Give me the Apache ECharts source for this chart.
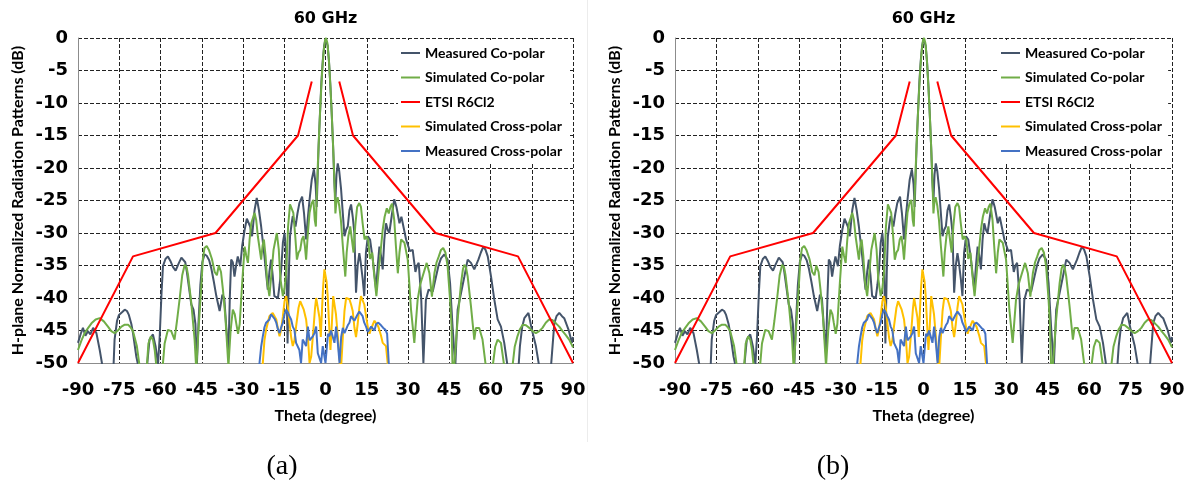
<!DOCTYPE html>
<html><head><meta charset="utf-8">
<script src="https://cdn.jsdelivr.net/npm/echarts@6/dist/echarts.min.js"></script>
<style>html,body{margin:0;padding:0;background:#fff}#c{width:1188px;height:495px}</style>
</head><body><div id="c"></div>
<script>
// ---- tick labels ----
const xTicks = [-90,-75,-60,-45,-30,-15,0,15,30,45,60,75,90];
const yTicks = [-50,-45,-40,-35,-30,-25,-20,-15,-10,-5,0];

// ---- series names ----
const seriesNames = ['Measured Co-polar','Simulated Co-polar','ETSI R6Cl2','Simulated Cross-polar','Measured Cross-polar'];
const seriesColors = ['#44546A','#70AD47','#FF0000','#FFC000','#4472C4'];

// ---- data: [theta (deg), level (dB)] ----
const measCo = [
[-90,-46.9],[-89,-45.5],[-88.2,-44.6],[-87.3,-45.8],[-86.4,-45.1],[-85.5,-45.6],[-84.5,-44.6],[-83.3,-45.4],[-82.1,-48],[-81.1,-50.5],[-79.5,-56],[-77.5,-55],[-76.7,-46.4],[-75.8,-43.5],[-75.1,-42.6],[-74,-42.2],[-73,-41.8],[-72.2,-42],[-71.5,-42.6],[-70.6,-44],[-70,-45.4],[-68.8,-49],[-67.8,-51],[-66,-56],[-64.8,-50],[-64,-46.4],[-62.75,-45.6],[-61.8,-47.4],[-60.9,-50.2],[-60.3,-46],[-59.6,-39],[-59.1,-35.1],[-58.2,-34],[-57.3,-33.6],[-56.4,-34.3],[-55.5,-35.2],[-54.5,-35.8],[-53.5,-34.8],[-52.4,-33.8],[-51.8,-33.7],[-51,-34.5],[-50.4,-36],[-49.6,-38.5],[-48.8,-41],[-48,-41.8],[-47.3,-44],[-46.8,-50.5],[-46.2,-44],[-45.5,-38],[-44.8,-34.5],[-44,-33.3],[-43.2,-33.5],[-42.3,-34.2],[-41.5,-35.5],[-40.6,-37.5],[-39.7,-39.7],[-38.5,-42],[-37.5,-39.5],[-36.8,-40],[-36.1,-44.4],[-35.3,-48.5],[-34.8,-40],[-34.3,-34.1],[-33.7,-34.5],[-33.1,-36.7],[-32.5,-35],[-31.9,-33.6],[-31,-35.1],[-30.3,-32],[-29.4,-29.5],[-28.6,-27.8],[-28.2,-27.7],[-27.4,-29],[-26.7,-30.5],[-25.8,-26.5],[-25,-24.6],[-24.2,-26.5],[-23.4,-29],[-22.2,-33.6],[-21,-38.7],[-20.4,-36],[-19.8,-34.1],[-19.2,-36.5],[-18.6,-39.7],[-17.3,-40],[-16.7,-38],[-16.1,-35.6],[-15.5,-31.5],[-14.9,-30],[-14.3,-33],[-13.8,-47],[-13.3,-36],[-12.9,-30.5],[-12.3,-28.5],[-11.9,-27.4],[-10.9,-29],[-10.2,-27],[-9.5,-25.4],[-8.5,-24.4],[-7.8,-27],[-7.05,-31],[-6.5,-28],[-5.8,-24.9],[-5,-21.8],[-4.2,-20.2],[-3.6,-22.5],[-3.2,-26],[-2.9,-22],[-2.5,-16.5],[-2.0,-11.5],[-1.5,-6.8],[-1.0,-3.5],[-0.5,-1.2],[0,-0.2],[0.3,0],[0.8,-1.2],[1.3,-3.8],[1.8,-7.5],[2.3,-12],[2.8,-17],[3.2,-22],[3.6,-25],[4.0,-21],[4.45,-19.3],[5.0,-20.5],[5.67,-23.3],[6.3,-27],[6.9,-30.5],[7.5,-29.5],[8.1,-29],[8.7,-26.5],[9.3,-25.6],[9.9,-27.5],[10.5,-30],[11.1,-39.2],[11.7,-35],[12.3,-33.1],[12.8,-34.5],[13.5,-37],[14.1,-39.7],[14.7,-33],[15.4,-30.5],[16.2,-31],[17.2,-34.1],[18.4,-38.7],[19.0,-35],[19.6,-32.1],[20.2,-33.5],[20.8,-35.6],[21.4,-31],[22,-28.5],[22.6,-29.5],[23.2,-30],[24.2,-27],[25.0,-24.8],[25.8,-26],[26.9,-28.5],[27.6,-27.5],[28.3,-27.4],[29.3,-31],[30.7,-32.8],[31.7,-32.6],[32.7,-36],[33.3,-35],[33.9,-34.6],[34.8,-40],[35.6,-50],[36.5,-40.3],[37.5,-38.7],[39,-39],[40.2,-36.7],[41.1,-35],[42,-33.9],[43.2,-33.3],[44.4,-34.1],[45.3,-37.7],[46.2,-44.4],[47.2,-50.5],[48.05,-41.8],[49.3,-39.2],[50.5,-36.7],[51.7,-34.1],[52.9,-34.6],[54.1,-35.6],[55.6,-34.1],[56.5,-33],[57.4,-32.1],[58.2,-32.6],[59,-33.6],[60.2,-36.7],[61.4,-40.3],[62.6,-43.3],[63.8,-44.4],[65,-46.9],[66.2,-50.5],[67.5,-56],[69.5,-55],[70.7,-47.4],[71.5,-44.5],[72.3,-43.1],[73.8,-42.3],[75.05,-44.9],[76.5,-47.4],[77.7,-50.5],[79.5,-56],[81,-55],[82,-50.5],[83.2,-43.9],[84,-42.8],[85,-42.3],[86,-42.8],[86.8,-43.1],[88.4,-44.9],[89.6,-46.9],[90,-46]
];
const simCo = [
[-90,-48],[-88.8,-46.6],[-87.6,-45.4],[-86.3,-44.6],[-85.1,-43.9],[-83.6,-43.3],[-82.1,-43.1],[-80.6,-43.6],[-79.1,-44.4],[-77.9,-45.1],[-76.7,-45.4],[-75.5,-45],[-74.2,-44.4],[-73,-44.1],[-71.8,-44.1],[-70.9,-44.5],[-70,-45.1],[-68.6,-47.4],[-67.6,-50.5],[-66.5,-54],[-65.2,-52],[-64.4,-47],[-63.5,-45.9],[-62.7,-46.5],[-62.1,-48],[-61.5,-50.5],[-60.5,-54],[-59.3,-51],[-58.5,-47],[-57.3,-44.9],[-56.1,-45.1],[-54.9,-46.4],[-54,-43.5],[-53,-40],[-52.1,-36.5],[-51.2,-34.9],[-50.5,-35.3],[-50,-36.4],[-48.8,-40.8],[-47.6,-46.4],[-47,-51],[-46.2,-45],[-45.2,-38.5],[-44.6,-34],[-44,-32.3],[-43.2,-32],[-42.4,-32.6],[-41.3,-34],[-40.3,-36],[-39.5,-36.5],[-38.8,-35],[-38,-36],[-37.3,-38.7],[-36.4,-43],[-35.3,-50.5],[-34.5,-45],[-33.7,-41.8],[-33,-42.5],[-32.5,-43.8],[-31.8,-45.5],[-31.2,-44],[-30.3,-37.7],[-29.4,-32.1],[-28.8,-33.5],[-28.2,-34.6],[-27.6,-31],[-27,-28.5],[-25.8,-26.9],[-25.2,-28],[-24.6,-30.5],[-23.4,-34.1],[-22.9,-32],[-22.4,-31],[-21.8,-33.5],[-21.2,-37.5],[-20.4,-39.7],[-19.6,-36],[-18.9,-32.6],[-17.7,-30],[-17,-32.5],[-16.4,-37],[-15.5,-39.7],[-14.9,-38.5],[-14.3,-36.1],[-13.6,-29],[-12.9,-25.6],[-12.3,-25.8],[-11.7,-26.9],[-11,-30.5],[-10.4,-34.1],[-9.8,-33],[-9.2,-32.6],[-8.6,-31],[-8.0,-30.5],[-7.5,-32],[-7.05,-34.1],[-6.4,-30],[-5.8,-26.9],[-5.1,-25.5],[-4.4,-24.9],[-3.9,-28],[-3.5,-29],[-3.1,-23],[-2.7,-18.5],[-2.2,-13.5],[-1.7,-9],[-1.2,-5],[-0.7,-2.2],[-0.2,-0.4],[0.2,0],[0.7,-0.8],[1.2,-3.2],[1.7,-6.8],[2.2,-11],[2.7,-16],[3.2,-21.5],[3.6,-27],[4.0,-25],[4.4,-24.5],[5.0,-25.8],[5.6,-28],[6.3,-32],[7.2,-36.7],[7.7,-33],[8.3,-30.5],[9.0,-29],[9.6,-31],[10.2,-33],[10.8,-29],[11.5,-26],[12.3,-25.4],[12.9,-26],[13.5,-28.5],[14.2,-31],[14.8,-30.5],[15.5,-31],[16.2,-34],[17.0,-33],[17.6,-36],[18.5,-39.7],[19.3,-36],[20.0,-33],[20.8,-29.5],[21.5,-27.5],[22.3,-26.2],[23.0,-27],[23.6,-26],[24.2,-25.5],[25.0,-28],[25.6,-32],[26.3,-36.2],[26.9,-33],[27.5,-31],[28.1,-30.8],[28.7,-31.5],[29.9,-34.1],[31.1,-41.8],[32.3,-46.9],[33.5,-40.3],[34.4,-38],[35.3,-36.7],[36.8,-34.6],[37.8,-36.2],[38.7,-39.8],[39.6,-36.2],[40.4,-34.5],[41.2,-33.6],[42.0,-32.6],[42.8,-32.3],[43.6,-33],[44.4,-35.1],[45.3,-40.3],[45.8,-44],[46.2,-50.5],[46.5,-53],[46.8,-50.5],[48.05,-43.3],[49.3,-37.7],[50,-35.5],[50.5,-34.9],[51.1,-35.3],[51.7,-36.7],[52.9,-41.3],[54.1,-46.4],[54.7,-44.6],[55.3,-44.3],[55.9,-44.6],[57.1,-46.4],[58.3,-50.5],[59.5,-54],[60.8,-50.5],[61.7,-47.5],[62.6,-46.4],[63.2,-46.2],[63.8,-46.9],[65,-50.5],[66.5,-54],[68,-50.5],[68.8,-47.5],[69.8,-45.9],[70.7,-44.8],[71.7,-44.1],[72.9,-44.2],[74.1,-44.6],[75.3,-45.1],[76.5,-45.4],[77.7,-45.1],[78.9,-44.6],[80.1,-43.8],[81.3,-43.3],[82.5,-43.4],[83.8,-43.9],[85,-44.4],[86.2,-45.1],[87.4,-45.7],[88.6,-46.4],[89.8,-47.4],[90,-47.6]
];
const etsiMask = [
[-90,-50],[-70,-33.6],[-40,-30],[-10,-15],[-5,-6.7],[0,'-'],[5,-6.7],[10,-15],[40,-30],[70,-33.6],[90,-50]
];
const simCross = [
[-23.3,-52],[-22.8,-50],[-22.2,-46.5],[-21.6,-44.9],[-20.4,-42.8],[-19.2,-42.3],[-18.5,-42.6],[-17.9,-43.3],[-17.2,-45],[-16.7,-45.9],[-16.1,-44.8],[-15.5,-42.8],[-14.9,-40.5],[-14.3,-39.7],[-13.7,-41.3],[-13.1,-43.8],[-12.5,-46],[-11.9,-47.4],[-11.3,-46.5],[-10.7,-44.4],[-9.8,-41.5],[-9.2,-40.5],[-8.6,-40.8],[-7.9,-41.8],[-7.05,-43.3],[-6.4,-46],[-5.8,-50],[-5.2,-49],[-4.4,-44.9],[-3.8,-41.5],[-3.4,-40],[-2.8,-40.3],[-2.2,-43],[-1.7,-46],[-1.3,-42],[-0.9,-38.5],[-0.4,-35.6],[0,-35.4],[0.4,-37.5],[0.8,-39.7],[1.3,-44],[1.8,-48],[2.3,-44],[2.8,-39.7],[3.3,-40],[3.8,-42.5],[4.5,-46],[5.1,-49.5],[5.7,-50.5],[6.3,-46],[6.9,-42],[7.5,-40],[8.1,-39.7],[8.7,-40.2],[9.3,-41],[9.9,-42],[10.5,-44.5],[11.1,-46],[11.7,-44],[12.3,-41.5],[12.9,-39.7],[13.5,-39.6],[14.1,-41],[14.75,-42.8],[15.4,-44.5],[16,-45.5],[16.8,-44.5],[17.8,-43.5],[18.5,-43.6],[19.2,-44.4],[20.2,-45.8],[20.8,-46.9],[21.4,-47],[22,-47.4],[22.6,-50],[23,-52]
];
const measCross = [
[-24.5,-53],[-24,-50],[-23.4,-47.5],[-22.8,-45.9],[-22.2,-44.5],[-21.6,-43.8],[-21,-43.6],[-20.4,-43.3],[-19.8,-42.5],[-19.2,-42.8],[-18.5,-43.2],[-17.9,-43.8],[-17.3,-44.8],[-16.7,-45.4],[-16.1,-44.5],[-15.5,-43.8],[-14.9,-42.5],[-14.3,-41.8],[-13.7,-42.2],[-13.1,-42.8],[-12.5,-43.3],[-11.9,-44.4],[-11.3,-44.9],[-10.7,-46.9],[-10.1,-47.2],[-9.5,-48],[-8.9,-50],[-8.3,-46.4],[-7.65,-46.9],[-7.05,-47.4],[-6.4,-44.4],[-5.8,-46.5],[-5.2,-46.4],[-4.6,-45.9],[-4.0,-45.4],[-3.4,-44.4],[-2.8,-48.5],[-2.2,-48.5],[-1.6,-50],[-1.0,-47.4],[-0.5,-47.6],[0,-50],[0.4,-48],[0.9,-45.5],[1.4,-45.9],[2.0,-45],[2.6,-45.1],[3.25,-46.9],[3.85,-44.4],[4.5,-47],[5.1,-50],[5.7,-46],[6.3,-44.6],[6.9,-45.4],[7.5,-45.4],[8.1,-44.2],[8.7,-43.8],[9.3,-42.8],[9.9,-42.8],[10.5,-43.5],[11.1,-43.6],[11.7,-42.5],[12.3,-42.1],[12.9,-41.8],[13.5,-42.8],[14.1,-43.8],[14.75,-44.4],[15.4,-45.2],[16,-45.4],[16.6,-44.4],[17.2,-44.5],[17.8,-45],[18.4,-44],[19.2,-43.8],[20.2,-44.2],[21,-44.6],[21.8,-44.9],[22.4,-45.5],[23,-50],[23.4,-53]
];

const panelTitle = '60 GHz';
const xTitle = 'Theta (degree)';
const yTitle = 'H-plane Normalized Radiation Patterns (dB)';
const captions = ['(a)','(b)'];

const seriesData = [measCo, simCo, etsiMask, simCross, measCross];

// ---- layout ----
const panels = [
  {left:78, width:495, legendLeft:398, yTitleX:18, capX:282},
  {left:675, width:497, legendLeft:998, yTitleX:615, capX:833}
];
const gridTop = 38, gridH = 325;

const chart = echarts.init(document.getElementById('c'));

const grids = [], xAxes = [], yAxes = [], series = [], legends = [], graphics = [];
const tickFont = {fontSize:18, fontWeight:'bold', fontFamily:'DejaVu Sans', color:'#000'};
panels.forEach((p, i) => {
  grids.push({left:p.left, top:gridTop, width:p.width, height:gridH, containLabel:false});
  xAxes.push({
    type:'value', gridIndex:i, min:xTicks[0], max:xTicks[xTicks.length-1], interval:xTicks[1]-xTicks[0],
    axisLine:{show:true, onZero:false, lineStyle:{color:'#8c8c8c', width:1}},
    axisTick:{show:false},
    splitLine:{show:true, lineStyle:{color:'#222', type:[4,2], width:1}},
    axisLabel:Object.assign({margin:18}, tickFont)
  });
  yAxes.push({
    type:'value', gridIndex:i, min:yTicks[0], max:yTicks[yTicks.length-1], interval:yTicks[1]-yTicks[0],
    axisLine:{show:true, onZero:false, lineStyle:{color:'#8c8c8c', width:1}},
    axisTick:{show:false},
    splitLine:{show:true, lineStyle:{color:'#222', type:[4,2], width:1}},
    axisLabel:Object.assign({margin:10}, tickFont)
  });
  seriesData.forEach((d, k) => {
    series.push({
      type:'line', name:seriesNames[k], xAxisIndex:i, yAxisIndex:i, data:d,
      showSymbol:false, symbol:'none', clip:true, connectNulls:false,
      lineStyle:{color:seriesColors[k], width:2}, itemStyle:{color:seriesColors[k]},
      z: 2 + k, animation:false
    });
  });
  legends.push({
    orient:'vertical', left:p.legendLeft, top:40, padding:[6,6,5,3],
    backgroundColor:'#fff', itemWidth:19, itemHeight:2, itemGap:10.5, icon:'rect',
    textStyle:{fontFamily:'Lato', fontWeight:'bold', fontSize:14, color:'#000'},
    data:seriesNames, selectedMode:false
  });
  const cx = p.left + p.width/2;
  graphics.push({type:'text', x:cx, y:19, style:{text:panelTitle, fontFamily:'DejaVu Sans', fontWeight:'bold', fontSize:16, fill:'#000', textAlign:'center', textVerticalAlign:'middle', align:'center', verticalAlign:'middle'}});
  graphics.push({type:'text', x:cx, y:416, style:{text:xTitle, fontFamily:'Lato', fontWeight:'bold', fontSize:16, fill:'#000', textAlign:'center', textVerticalAlign:'middle', align:'center', verticalAlign:'middle'}});
  graphics.push({type:'text', x:p.yTitleX, y:gridTop+gridH/2, rotation:Math.PI/2, style:{text:yTitle, fontFamily:'Lato', fontWeight:'bold', fontSize:16, fill:'#000', textAlign:'center', textVerticalAlign:'middle', align:'center', verticalAlign:'middle'}});
  graphics.push({type:'text', x:p.capX, y:467, style:{text:captions[i], fontFamily:'Liberation Serif', fontSize:28, fill:'#000', textAlign:'center', textVerticalAlign:'middle', align:'center', verticalAlign:'middle'}});
});
graphics.push({type:'line', shape:{x1:587.5, y1:0, x2:587.5, y2:442}, style:{stroke:'#ececec', lineWidth:1}});

chart.setOption({
  animation:false,
  backgroundColor:'#fff',
  grid:grids, xAxis:xAxes, yAxis:yAxes, series:series, legend:legends, graphic:graphics
});
</script></body></html>
